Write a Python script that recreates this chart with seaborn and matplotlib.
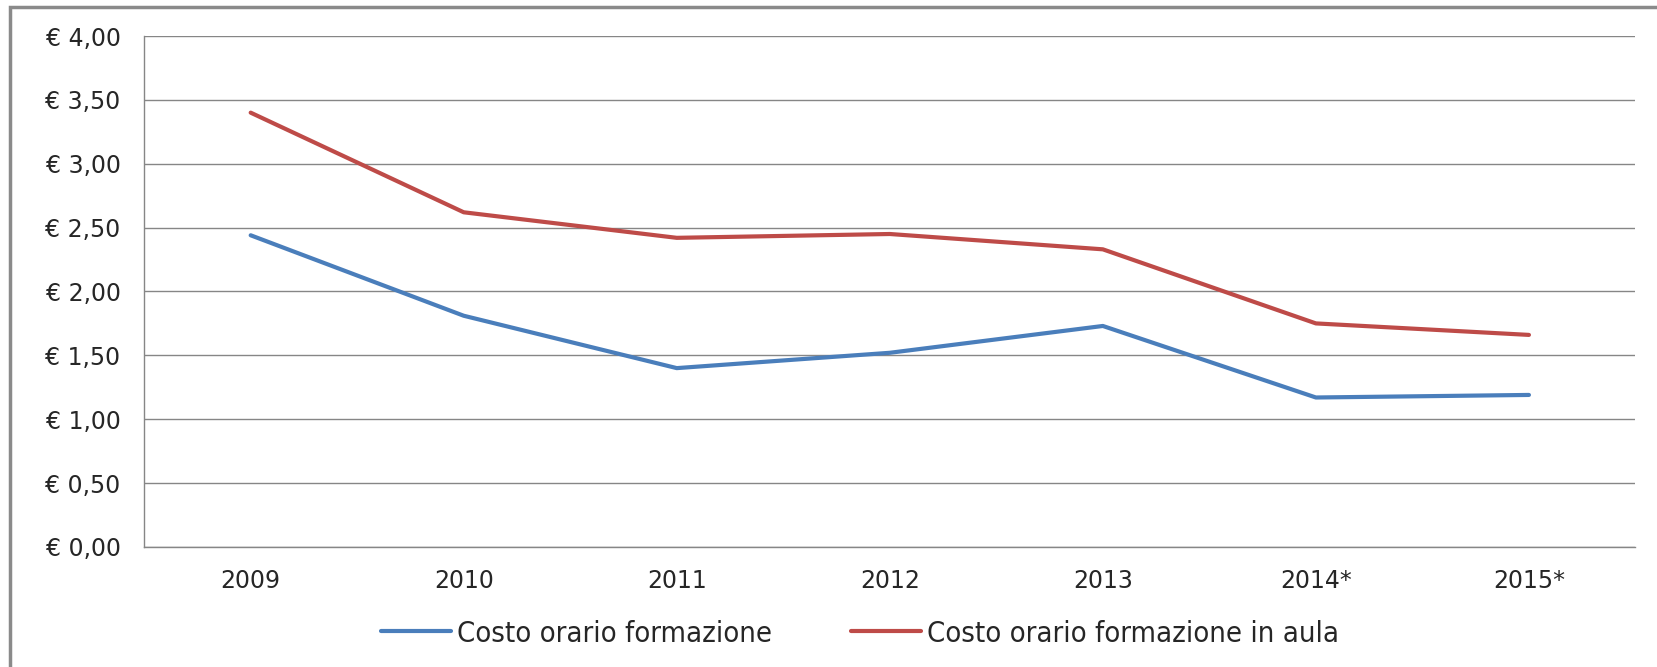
import matplotlib
matplotlib.use("Agg")
import matplotlib.pyplot as plt
import matplotlib.ticker as mticker
import seaborn as sns
import pandas as pd

# chart data
years = ["2009", "2010", "2011", "2012", "2013", "2014*", "2015*"]
costo_formazione = [2.44, 1.81, 1.40, 1.52, 1.73, 1.17, 1.19]
costo_aula = [3.40, 2.62, 2.42, 2.45, 2.33, 1.75, 1.66]
series_names = ["Costo orario formazione", "Costo orario formazione in aula"]
y_ticks = [0, 0.5, 1, 1.5, 2, 2.5, 3, 3.5, 4]

df = pd.DataFrame({
    "x": list(range(len(years))) * 2,
    "valore": costo_formazione + costo_aula,
    "serie": [series_names[0]] * len(years) + [series_names[1]] * len(years),
})

sns.set_style("white")
plt.rcParams["font.family"] = ["DejaVu Sans"]

fig = plt.figure(figsize=(16.57, 6.67), dpi=100)
ax = fig.add_axes([0.087, 0.180, 0.900, 0.766])

sns.lineplot(data=df, x="x", y="valore", hue="serie",
             palette=["#4A7EBB", "#BE4B48"], linewidth=3.0, ax=ax,
             legend=False)

grid_col = "#868686"
ax.set_ylim(0, 4)
ax.set_xlim(-0.5, len(years) - 0.5)
ax.set_yticks(y_ticks)
ax.yaxis.set_major_formatter(mticker.FuncFormatter(
    lambda v, p: "€ " + f"{v:.2f}".replace(".", ",")))
ax.yaxis.grid(True, color=grid_col, linewidth=1.0)
ax.set_axisbelow(True)

# category labels centred, tick marks between categories (Excel style)
ax.set_xticks(range(len(years)))
ax.set_xticklabels(years)
ax.set_xticks([i - 0.5 for i in range(len(years) + 1)], minor=True)
ax.tick_params(axis="x", which="major", length=0, pad=16, labelsize=17)
ax.tick_params(axis="x", which="minor", length=8, color=grid_col, width=1)
ax.tick_params(axis="y", length=8, color=grid_col, width=1, pad=9, labelsize=17)

for s in ["top", "right"]:
    ax.spines[s].set_visible(False)
for s in ["left", "bottom"]:
    ax.spines[s].set_color(grid_col)
    ax.spines[s].set_linewidth(1.0)
ax.set_xlabel("")
ax.set_ylabel("")

# legend below the plot
handles = [plt.Line2D([], [], color=c, linewidth=3.0) for c in ["#4A7EBB", "#BE4B48"]]
fig.legend(handles, series_names, loc="center", bbox_to_anchor=(0.519, 0.05),
           ncol=2, frameon=False, handlelength=2.4, handletextpad=0.2,
           columnspacing=2.7,
           prop={"family": "DejaVu Sans", "stretch": "condensed", "size": 21})

# outer chart frame (visible at left and top only)
fig.add_artist(plt.Rectangle((0.006, -0.05), 1.2, 1.039, transform=fig.transFigure,
                             fill=False, edgecolor="#8A8A8A", linewidth=2.5))

fig.savefig("out.png", dpi=100)
